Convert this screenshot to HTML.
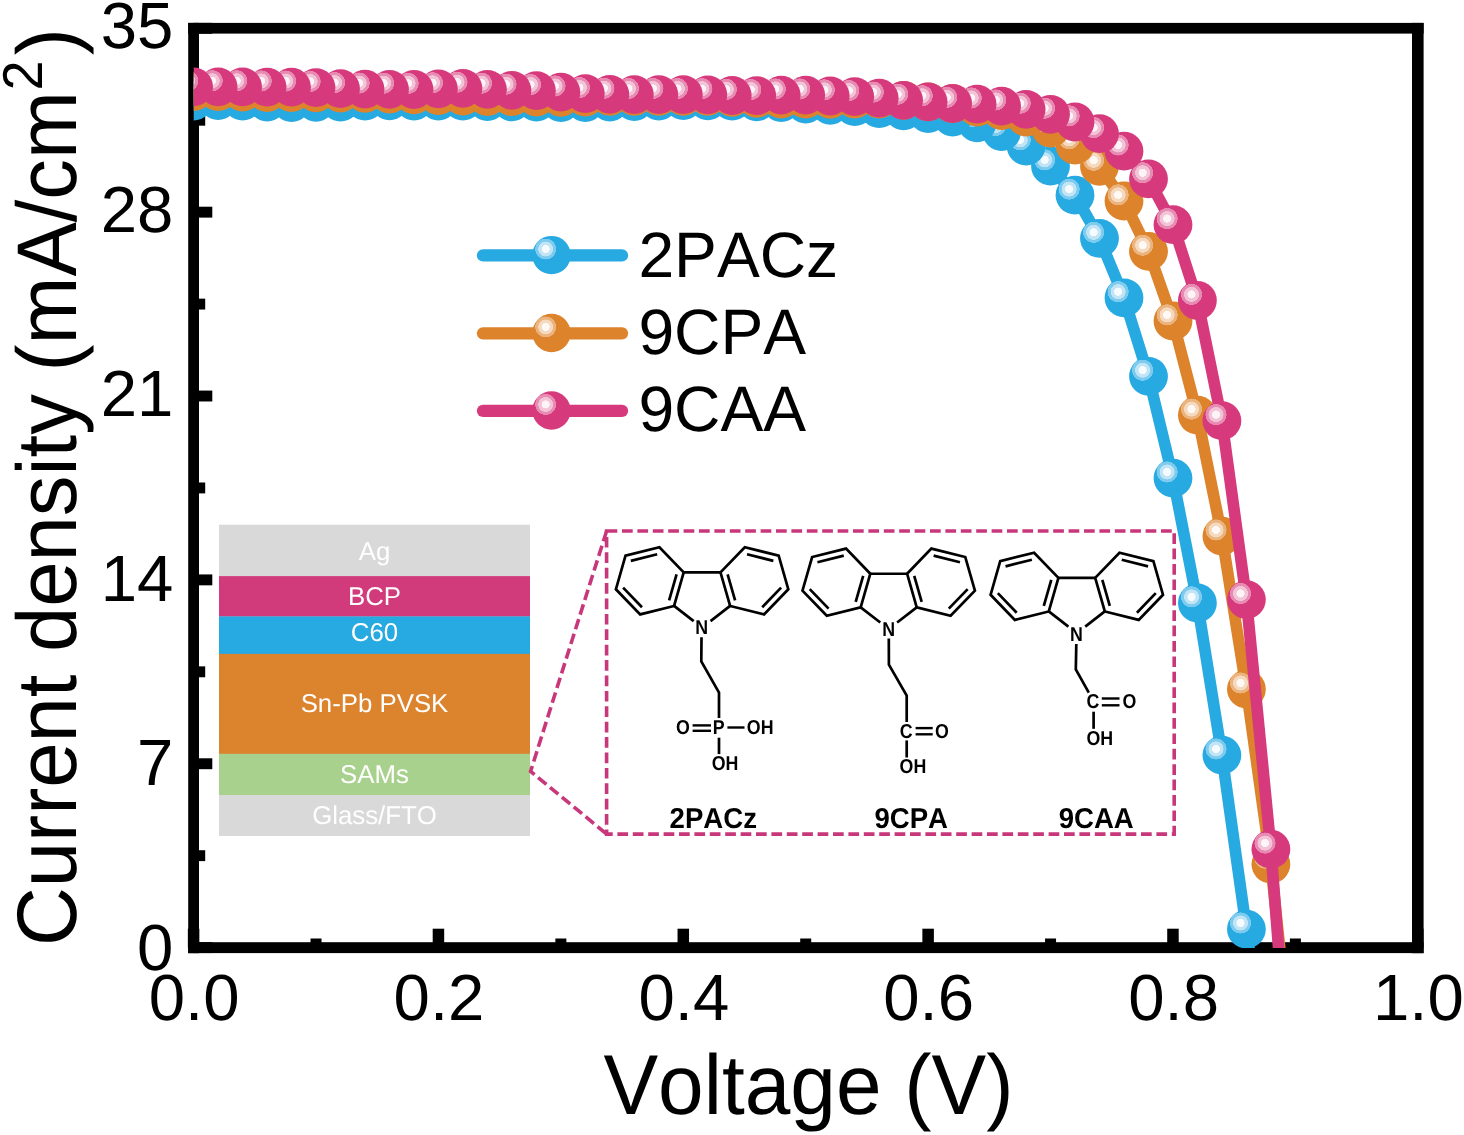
<!DOCTYPE html>
<html lang="en"><head><meta charset="utf-8"><title>J-V curves</title>
<style>html,body{margin:0;padding:0;background:#fff}body{width:1464px;height:1135px;overflow:hidden}svg{display:block}text{font-family:"Liberation Sans",sans-serif;font-kerning:none;text-rendering:geometricPrecision}</style></head><body>
<svg width="1464" height="1135" viewBox="0 0 1464 1135">
<defs>
<radialGradient id="gb" cx="0.348" cy="0.342" fx="0.348" fy="0.342" r="0.275">
<stop offset="0" stop-color="#F5FBFE"/><stop offset="0.36" stop-color="#F5FBFE"/><stop offset="0.40" stop-color="#C2E5F6"/><stop offset="0.68" stop-color="#C2E5F6"/><stop offset="0.72" stop-color="#7DCBEE"/><stop offset="0.97" stop-color="#7DCBEE"/><stop offset="1" stop-color="#27A9E1"/></radialGradient>
<radialGradient id="go" cx="0.348" cy="0.342" fx="0.348" fy="0.342" r="0.275">
<stop offset="0" stop-color="#FEF9F4"/><stop offset="0.36" stop-color="#FEF9F4"/><stop offset="0.40" stop-color="#F5DABF"/><stop offset="0.68" stop-color="#F5DABF"/><stop offset="0.72" stop-color="#EBB47E"/><stop offset="0.97" stop-color="#EBB47E"/><stop offset="1" stop-color="#DC832B"/></radialGradient>
<radialGradient id="gp" cx="0.348" cy="0.342" fx="0.348" fy="0.342" r="0.275">
<stop offset="0" stop-color="#FDF4F8"/><stop offset="0.36" stop-color="#FDF4F8"/><stop offset="0.40" stop-color="#F3C3D8"/><stop offset="0.68" stop-color="#F3C3D8"/><stop offset="0.72" stop-color="#E88BB2"/><stop offset="0.97" stop-color="#E88BB2"/><stop offset="1" stop-color="#D63A7C"/></radialGradient>
<clipPath id="clip"><rect x="193.70" y="28.30" width="1224.20" height="919.80"/></clipPath>
</defs>
<rect width="1464" height="1135" fill="#fff"/>
<g fill="#000">
<rect x="188.2" y="22.9" width="10.8" height="930.3"/>
<rect x="1412.0" y="22.9" width="11.6" height="930.3"/>
<rect x="188.2" y="22.9" width="1235.4" height="10.7"/>
<rect x="188.2" y="942.2" width="1235.4" height="10.9"/>
<rect x="187.85" y="928.7" width="11.5" height="19"/>
<rect x="310.52" y="938.5" width="11.0" height="9"/>
<rect x="432.69" y="928.7" width="11.5" height="19"/>
<rect x="555.36" y="938.5" width="11.0" height="9"/>
<rect x="677.53" y="928.7" width="11.5" height="19"/>
<rect x="800.20" y="938.5" width="11.0" height="9"/>
<rect x="922.37" y="928.7" width="11.5" height="19"/>
<rect x="1045.04" y="938.5" width="11.0" height="9"/>
<rect x="1167.21" y="928.7" width="11.5" height="19"/>
<rect x="1289.88" y="938.5" width="11.0" height="9"/>
<rect x="1412.05" y="928.7" width="11.5" height="19"/>
<rect x="193.6" y="942.15" width="18.7" height="10.9"/>
<rect x="193.6" y="850.22" width="11.6" height="10.9"/>
<rect x="193.6" y="758.29" width="18.7" height="10.9"/>
<rect x="193.6" y="666.36" width="11.6" height="10.9"/>
<rect x="193.6" y="574.43" width="18.7" height="10.9"/>
<rect x="193.6" y="482.50" width="11.6" height="10.9"/>
<rect x="193.6" y="390.57" width="18.7" height="10.9"/>
<rect x="193.6" y="298.64" width="11.6" height="10.9"/>
<rect x="193.6" y="206.71" width="18.7" height="10.9"/>
<rect x="193.6" y="114.78" width="11.6" height="10.9"/>
<rect x="193.6" y="22.85" width="18.7" height="10.9"/>
</g>
<g clip-path="url(#clip)">
<polyline points="193.6,101.0 218.1,100.5 242.6,101.2 267.1,102.0 291.5,102.6 316.0,102.4 340.5,102.2 365.0,101.2 389.5,100.8 414.0,101.0 438.4,101.1 462.9,101.2 487.4,101.5 511.9,101.9 536.4,102.2 560.9,102.6 585.3,102.6 609.8,102.0 634.3,101.5 658.8,101.0 683.3,100.5 707.8,100.8 732.2,101.2 756.7,101.9 781.2,102.6 805.7,104.0 830.2,105.3 854.7,106.7 879.2,108.7 903.6,110.8 928.1,113.5 952.6,117.1 977.1,122.8 1001.6,131.6 1026.1,146.0 1050.5,166.0 1075.0,195.2 1099.5,238.4 1124.0,297.8 1148.5,376.3 1173.0,478.1 1197.4,603.0 1221.9,755.1 1246.4,929.1 1270.9,1110.0" fill="none" stroke="#27A9E1" stroke-width="11.6" stroke-linejoin="round"/>
<circle cx="1246.4" cy="929.1" r="19.4" fill="url(#gb)"/>
<circle cx="1221.9" cy="755.1" r="19.4" fill="url(#gb)"/>
<circle cx="1197.4" cy="603.0" r="19.4" fill="url(#gb)"/>
<circle cx="1173.0" cy="478.1" r="19.4" fill="url(#gb)"/>
<circle cx="1148.5" cy="376.3" r="19.4" fill="url(#gb)"/>
<circle cx="1124.0" cy="297.8" r="19.4" fill="url(#gb)"/>
<circle cx="1099.5" cy="238.4" r="19.4" fill="url(#gb)"/>
<circle cx="1075.0" cy="195.2" r="19.4" fill="url(#gb)"/>
<circle cx="1050.5" cy="166.0" r="19.4" fill="url(#gb)"/>
<circle cx="1026.1" cy="146.0" r="19.4" fill="url(#gb)"/>
<circle cx="1001.6" cy="131.6" r="19.4" fill="url(#gb)"/>
<circle cx="977.1" cy="122.8" r="19.4" fill="url(#gb)"/>
<circle cx="952.6" cy="117.1" r="19.4" fill="url(#gb)"/>
<circle cx="928.1" cy="113.5" r="19.4" fill="url(#gb)"/>
<circle cx="903.6" cy="110.8" r="19.4" fill="url(#gb)"/>
<circle cx="879.2" cy="108.7" r="19.4" fill="url(#gb)"/>
<circle cx="854.7" cy="106.7" r="19.4" fill="url(#gb)"/>
<circle cx="830.2" cy="105.3" r="19.4" fill="url(#gb)"/>
<circle cx="805.7" cy="104.0" r="19.4" fill="url(#gb)"/>
<circle cx="781.2" cy="102.6" r="19.4" fill="url(#gb)"/>
<circle cx="756.7" cy="101.9" r="19.4" fill="url(#gb)"/>
<circle cx="732.2" cy="101.2" r="19.4" fill="url(#gb)"/>
<circle cx="707.8" cy="100.8" r="19.4" fill="url(#gb)"/>
<circle cx="683.3" cy="100.5" r="19.4" fill="url(#gb)"/>
<circle cx="658.8" cy="101.0" r="19.4" fill="url(#gb)"/>
<circle cx="634.3" cy="101.5" r="19.4" fill="url(#gb)"/>
<circle cx="609.8" cy="102.0" r="19.4" fill="url(#gb)"/>
<circle cx="585.3" cy="102.6" r="19.4" fill="url(#gb)"/>
<circle cx="560.9" cy="102.6" r="19.4" fill="url(#gb)"/>
<circle cx="536.4" cy="102.2" r="19.4" fill="url(#gb)"/>
<circle cx="511.9" cy="101.9" r="19.4" fill="url(#gb)"/>
<circle cx="487.4" cy="101.5" r="19.4" fill="url(#gb)"/>
<circle cx="462.9" cy="101.2" r="19.4" fill="url(#gb)"/>
<circle cx="438.4" cy="101.1" r="19.4" fill="url(#gb)"/>
<circle cx="414.0" cy="101.0" r="19.4" fill="url(#gb)"/>
<circle cx="389.5" cy="100.8" r="19.4" fill="url(#gb)"/>
<circle cx="365.0" cy="101.2" r="19.4" fill="url(#gb)"/>
<circle cx="340.5" cy="102.2" r="19.4" fill="url(#gb)"/>
<circle cx="316.0" cy="102.4" r="19.4" fill="url(#gb)"/>
<circle cx="291.5" cy="102.6" r="19.4" fill="url(#gb)"/>
<circle cx="267.1" cy="102.0" r="19.4" fill="url(#gb)"/>
<circle cx="242.6" cy="101.2" r="19.4" fill="url(#gb)"/>
<circle cx="218.1" cy="100.5" r="19.4" fill="url(#gb)"/>
<circle cx="193.6" cy="101.0" r="19.4" fill="url(#gb)"/>
<polyline points="193.6,91.5 218.1,91.7 242.6,92.2 267.1,92.6 291.5,92.7 316.0,92.8 340.5,93.1 365.0,93.4 389.5,94.0 414.0,94.8 438.4,95.5 462.9,96.2 487.4,96.5 511.9,96.7 536.4,97.0 560.9,97.4 585.3,97.0 609.8,96.4 634.3,96.4 658.8,96.4 683.3,96.4 707.8,96.4 732.2,97.3 756.7,98.3 781.2,99.2 805.7,99.2 830.2,99.4 854.7,99.0 879.2,99.0 903.6,100.3 928.1,101.9 952.6,103.7 977.1,107.0 1001.6,110.5 1026.1,117.0 1050.5,128.0 1075.0,145.0 1099.5,166.4 1124.0,201.0 1148.5,251.3 1173.0,321.0 1197.4,415.2 1221.9,536.1 1246.4,689.1 1270.9,864.2 1295.4,1095.0" fill="none" stroke="#DC832B" stroke-width="11.6" stroke-linejoin="round"/>
<circle cx="1270.9" cy="864.2" r="19.4" fill="url(#go)"/>
<circle cx="1246.4" cy="689.1" r="19.4" fill="url(#go)"/>
<circle cx="1221.9" cy="536.1" r="19.4" fill="url(#go)"/>
<circle cx="1197.4" cy="415.2" r="19.4" fill="url(#go)"/>
<circle cx="1173.0" cy="321.0" r="19.4" fill="url(#go)"/>
<circle cx="1148.5" cy="251.3" r="19.4" fill="url(#go)"/>
<circle cx="1124.0" cy="201.0" r="19.4" fill="url(#go)"/>
<circle cx="1099.5" cy="166.4" r="19.4" fill="url(#go)"/>
<circle cx="1075.0" cy="145.0" r="19.4" fill="url(#go)"/>
<circle cx="1050.5" cy="128.0" r="19.4" fill="url(#go)"/>
<circle cx="1026.1" cy="117.0" r="19.4" fill="url(#go)"/>
<circle cx="1001.6" cy="110.5" r="19.4" fill="url(#go)"/>
<circle cx="977.1" cy="107.0" r="19.4" fill="url(#go)"/>
<circle cx="952.6" cy="103.7" r="19.4" fill="url(#go)"/>
<circle cx="928.1" cy="101.9" r="19.4" fill="url(#go)"/>
<circle cx="903.6" cy="100.3" r="19.4" fill="url(#go)"/>
<circle cx="879.2" cy="99.0" r="19.4" fill="url(#go)"/>
<circle cx="854.7" cy="99.0" r="19.4" fill="url(#go)"/>
<circle cx="830.2" cy="99.4" r="19.4" fill="url(#go)"/>
<circle cx="805.7" cy="99.2" r="19.4" fill="url(#go)"/>
<circle cx="781.2" cy="99.2" r="19.4" fill="url(#go)"/>
<circle cx="756.7" cy="98.3" r="19.4" fill="url(#go)"/>
<circle cx="732.2" cy="97.3" r="19.4" fill="url(#go)"/>
<circle cx="707.8" cy="96.4" r="19.4" fill="url(#go)"/>
<circle cx="683.3" cy="96.4" r="19.4" fill="url(#go)"/>
<circle cx="658.8" cy="96.4" r="19.4" fill="url(#go)"/>
<circle cx="634.3" cy="96.4" r="19.4" fill="url(#go)"/>
<circle cx="609.8" cy="96.4" r="19.4" fill="url(#go)"/>
<circle cx="585.3" cy="97.0" r="19.4" fill="url(#go)"/>
<circle cx="560.9" cy="97.4" r="19.4" fill="url(#go)"/>
<circle cx="536.4" cy="97.0" r="19.4" fill="url(#go)"/>
<circle cx="511.9" cy="96.7" r="19.4" fill="url(#go)"/>
<circle cx="487.4" cy="96.5" r="19.4" fill="url(#go)"/>
<circle cx="462.9" cy="96.2" r="19.4" fill="url(#go)"/>
<circle cx="438.4" cy="95.5" r="19.4" fill="url(#go)"/>
<circle cx="414.0" cy="94.8" r="19.4" fill="url(#go)"/>
<circle cx="389.5" cy="94.0" r="19.4" fill="url(#go)"/>
<circle cx="365.0" cy="93.4" r="19.4" fill="url(#go)"/>
<circle cx="340.5" cy="93.1" r="19.4" fill="url(#go)"/>
<circle cx="316.0" cy="92.8" r="19.4" fill="url(#go)"/>
<circle cx="291.5" cy="92.7" r="19.4" fill="url(#go)"/>
<circle cx="267.1" cy="92.6" r="19.4" fill="url(#go)"/>
<circle cx="242.6" cy="92.2" r="19.4" fill="url(#go)"/>
<circle cx="218.1" cy="91.7" r="19.4" fill="url(#go)"/>
<circle cx="193.6" cy="91.5" r="19.4" fill="url(#go)"/>
<polyline points="193.6,86.9 218.1,86.9 242.6,86.9 267.1,87.1 291.5,87.2 316.0,87.6 340.5,88.7 365.0,89.2 389.5,89.3 414.0,89.5 438.4,88.9 462.9,88.3 487.4,89.3 511.9,90.3 536.4,90.7 560.9,92.1 585.3,93.7 609.8,94.4 634.3,94.6 658.8,94.6 683.3,94.7 707.8,94.8 732.2,95.5 756.7,95.7 781.2,95.1 805.7,95.1 830.2,96.0 854.7,96.7 879.2,98.2 903.6,100.3 928.1,101.9 952.6,103.5 977.1,104.1 1001.6,106.1 1026.1,109.3 1050.5,114.3 1075.0,122.0 1099.5,133.7 1124.0,151.1 1148.5,178.9 1173.0,224.7 1197.4,300.5 1221.9,420.7 1246.4,599.6 1270.9,849.2 1295.4,1166.0" fill="none" stroke="#D63A7C" stroke-width="11.6" stroke-linejoin="round"/>
<circle cx="1270.9" cy="849.2" r="19.4" fill="url(#gp)"/>
<circle cx="1246.4" cy="599.6" r="19.4" fill="url(#gp)"/>
<circle cx="1221.9" cy="420.7" r="19.4" fill="url(#gp)"/>
<circle cx="1197.4" cy="300.5" r="19.4" fill="url(#gp)"/>
<circle cx="1173.0" cy="224.7" r="19.4" fill="url(#gp)"/>
<circle cx="1148.5" cy="178.9" r="19.4" fill="url(#gp)"/>
<circle cx="1124.0" cy="151.1" r="19.4" fill="url(#gp)"/>
<circle cx="1099.5" cy="133.7" r="19.4" fill="url(#gp)"/>
<circle cx="1075.0" cy="122.0" r="19.4" fill="url(#gp)"/>
<circle cx="1050.5" cy="114.3" r="19.4" fill="url(#gp)"/>
<circle cx="1026.1" cy="109.3" r="19.4" fill="url(#gp)"/>
<circle cx="1001.6" cy="106.1" r="19.4" fill="url(#gp)"/>
<circle cx="977.1" cy="104.1" r="19.4" fill="url(#gp)"/>
<circle cx="952.6" cy="103.5" r="19.4" fill="url(#gp)"/>
<circle cx="928.1" cy="101.9" r="19.4" fill="url(#gp)"/>
<circle cx="903.6" cy="100.3" r="19.4" fill="url(#gp)"/>
<circle cx="879.2" cy="98.2" r="19.4" fill="url(#gp)"/>
<circle cx="854.7" cy="96.7" r="19.4" fill="url(#gp)"/>
<circle cx="830.2" cy="96.0" r="19.4" fill="url(#gp)"/>
<circle cx="805.7" cy="95.1" r="19.4" fill="url(#gp)"/>
<circle cx="781.2" cy="95.1" r="19.4" fill="url(#gp)"/>
<circle cx="756.7" cy="95.7" r="19.4" fill="url(#gp)"/>
<circle cx="732.2" cy="95.5" r="19.4" fill="url(#gp)"/>
<circle cx="707.8" cy="94.8" r="19.4" fill="url(#gp)"/>
<circle cx="683.3" cy="94.7" r="19.4" fill="url(#gp)"/>
<circle cx="658.8" cy="94.6" r="19.4" fill="url(#gp)"/>
<circle cx="634.3" cy="94.6" r="19.4" fill="url(#gp)"/>
<circle cx="609.8" cy="94.4" r="19.4" fill="url(#gp)"/>
<circle cx="585.3" cy="93.7" r="19.4" fill="url(#gp)"/>
<circle cx="560.9" cy="92.1" r="19.4" fill="url(#gp)"/>
<circle cx="536.4" cy="90.7" r="19.4" fill="url(#gp)"/>
<circle cx="511.9" cy="90.3" r="19.4" fill="url(#gp)"/>
<circle cx="487.4" cy="89.3" r="19.4" fill="url(#gp)"/>
<circle cx="462.9" cy="88.3" r="19.4" fill="url(#gp)"/>
<circle cx="438.4" cy="88.9" r="19.4" fill="url(#gp)"/>
<circle cx="414.0" cy="89.5" r="19.4" fill="url(#gp)"/>
<circle cx="389.5" cy="89.3" r="19.4" fill="url(#gp)"/>
<circle cx="365.0" cy="89.2" r="19.4" fill="url(#gp)"/>
<circle cx="340.5" cy="88.7" r="19.4" fill="url(#gp)"/>
<circle cx="316.0" cy="87.6" r="19.4" fill="url(#gp)"/>
<circle cx="291.5" cy="87.2" r="19.4" fill="url(#gp)"/>
<circle cx="267.1" cy="87.1" r="19.4" fill="url(#gp)"/>
<circle cx="242.6" cy="86.9" r="19.4" fill="url(#gp)"/>
<circle cx="218.1" cy="86.9" r="19.4" fill="url(#gp)"/>
<circle cx="193.6" cy="86.9" r="19.4" fill="url(#gp)"/>
</g>
<line x1="483" y1="255.4" x2="622" y2="255.4" stroke="#27A9E1" stroke-width="12.3" stroke-linecap="round"/>
<circle cx="551.5" cy="255.1" r="19.2" fill="url(#gb)"/>
<text x="638.4" y="276.9" font-size="64.2">2PACz</text>
<line x1="483" y1="333.3" x2="622" y2="333.3" stroke="#DC832B" stroke-width="12.3" stroke-linecap="round"/>
<circle cx="551.5" cy="333.0" r="19.2" fill="url(#go)"/>
<text x="638.4" y="354.3" font-size="64.2">9CPA</text>
<line x1="483" y1="410.8" x2="622" y2="410.8" stroke="#D63A7C" stroke-width="12.3" stroke-linecap="round"/>
<circle cx="551.5" cy="410.5" r="19.2" fill="url(#gp)"/>
<text x="638.4" y="431.3" font-size="64.2">9CAA</text>
<g font-size="65.3" fill="#000">
<text x="194.2" y="1020.4" text-anchor="middle">0.0</text>
<text x="439.0" y="1020.4" text-anchor="middle">0.2</text>
<text x="683.9" y="1020.4" text-anchor="middle">0.4</text>
<text x="928.7" y="1020.4" text-anchor="middle">0.6</text>
<text x="1173.6" y="1020.4" text-anchor="middle">0.8</text>
<text x="1418.4" y="1020.4" text-anchor="middle">1.0</text>
<text x="173.4" y="969.5" text-anchor="end">0</text>
<text x="173.4" y="785.2" text-anchor="end">7</text>
<text x="173.4" y="600.8" text-anchor="end">14</text>
<text x="173.4" y="415.9" text-anchor="end">21</text>
<text x="173.4" y="232.1" text-anchor="end">28</text>
<text x="173.4" y="47.8" text-anchor="end">35</text>
</g>
<text transform="translate(808.5,1114.2) scale(1,1.035)" font-size="82" text-anchor="middle">Voltage (V)</text>
<text transform="translate(76.2,946) rotate(-90) scale(1,1.04)" font-size="81.4">Current density (mA/cm<tspan font-size="54" dy="-33" dx="0.8">2</tspan><tspan dy="33" dx="5">)</tspan></text>
<rect x="219" y="524.7" width="311" height="51.7" fill="#D9D9D9"/>
<rect x="219" y="576.1" width="311" height="40.6" fill="#D13B7B"/>
<rect x="219" y="616.4" width="311" height="37.8" fill="#27A9E1"/>
<rect x="219" y="653.9" width="311" height="100.2" fill="#DB832D"/>
<rect x="219" y="753.8" width="311" height="41.5" fill="#A9D18E"/>
<rect x="219" y="795.0" width="311" height="41.0" fill="#D9D9D9"/>
<text x="374.5" y="559.6" font-size="25.8" fill="#fff" text-anchor="middle">Ag</text>
<text x="374.5" y="604.7" font-size="25.8" fill="#fff" text-anchor="middle">BCP</text>
<text x="374.5" y="641.2" font-size="25.8" fill="#fff" text-anchor="middle">C60</text>
<text x="374.5" y="712.0" font-size="25.8" fill="#fff" text-anchor="middle">Sn-Pb PVSK</text>
<text x="374.5" y="783.0" font-size="25.8" fill="#fff" text-anchor="middle">SAMs</text>
<text x="374.5" y="824.2" font-size="25.8" fill="#fff" text-anchor="middle">Glass/FTO</text>
<g fill="none" stroke="#C8377A" stroke-width="3.6" stroke-dasharray="10.7 4.7">
<rect x="606.6" y="531" width="567.6" height="303.1"/>
<path d="M606.6 531 L530.6 771.3 L606.6 834"/>
</g>
<g fill="none" stroke="#000" stroke-width="2.7" stroke-linejoin="miter" stroke-linecap="butt">
<polygon points="683.71,572.34 659.43,547.20 625.52,555.66 615.89,589.26 640.17,614.40 674.08,605.94"/>
<polygon points="720.49,572.34 744.77,547.20 778.68,555.66 788.31,589.26 764.03,614.40 730.12,605.94"/>
<line x1="683.71" y1="572.34" x2="720.49" y2="572.34"/>
<line x1="657.17" y1="554.26" x2="630.83" y2="560.83"/>
<line x1="623.13" y1="587.68" x2="641.99" y2="607.21"/>
<line x1="669.10" y1="600.46" x2="676.58" y2="574.36"/>
<line x1="747.03" y1="554.26" x2="773.37" y2="560.83"/>
<line x1="781.07" y1="587.68" x2="762.21" y2="607.21"/>
<line x1="735.10" y1="600.46" x2="727.62" y2="574.36"/>
<line x1="674.08" y1="605.94" x2="693.69" y2="621.10"/>
<line x1="730.12" y1="605.94" x2="710.51" y2="621.10"/>
<polyline points="701.5,637.2 701.3,661.5 719,692.6 719,718"/>
<line stroke-width="2.4" x1="692.6" y1="725.4" x2="711" y2="725.4"/><line stroke-width="2.4" x1="692.6" y1="730.8" x2="711" y2="730.8"/>
<line stroke-width="2.4" x1="727.4" y1="727.5" x2="744.5" y2="727.5"/>
<line x1="719" y1="737.7" x2="719" y2="754.1"/>
<polygon points="870.31,573.74 846.03,548.60 812.12,557.06 802.49,590.66 826.77,615.80 860.68,607.34"/>
<polygon points="907.09,573.74 931.37,548.60 965.28,557.06 974.91,590.66 950.63,615.80 916.72,607.34"/>
<line x1="870.31" y1="573.74" x2="907.09" y2="573.74"/>
<line x1="843.77" y1="555.66" x2="817.43" y2="562.23"/>
<line x1="809.73" y1="589.08" x2="828.59" y2="608.61"/>
<line x1="855.70" y1="601.86" x2="863.18" y2="575.76"/>
<line x1="933.63" y1="555.66" x2="959.97" y2="562.23"/>
<line x1="967.67" y1="589.08" x2="948.81" y2="608.61"/>
<line x1="921.70" y1="601.86" x2="914.22" y2="575.76"/>
<line x1="860.68" y1="607.34" x2="880.29" y2="622.50"/>
<line x1="916.72" y1="607.34" x2="897.11" y2="622.50"/>
<polyline points="888.8,638.6 888.9,664.6 906.7,695.7 906.7,722"/>
<line stroke-width="2.4" x1="915.6" y1="728.1" x2="932.7" y2="728.1"/><line stroke-width="2.4" x1="915.6" y1="734.3" x2="932.7" y2="734.3"/>
<line x1="906.7" y1="740.4" x2="906.7" y2="757.5"/>
<polygon points="1058.41,577.84 1034.13,552.70 1000.22,561.16 990.59,594.76 1014.87,619.90 1048.78,611.44"/>
<polygon points="1095.19,577.84 1119.47,552.70 1153.38,561.16 1163.01,594.76 1138.73,619.90 1104.82,611.44"/>
<line x1="1058.41" y1="577.84" x2="1095.19" y2="577.84"/>
<line x1="1031.87" y1="559.76" x2="1005.53" y2="566.33"/>
<line x1="997.83" y1="593.18" x2="1016.69" y2="612.71"/>
<line x1="1043.80" y1="605.96" x2="1051.28" y2="579.86"/>
<line x1="1121.73" y1="559.76" x2="1148.07" y2="566.33"/>
<line x1="1155.77" y1="593.18" x2="1136.91" y2="612.71"/>
<line x1="1109.80" y1="605.96" x2="1102.32" y2="579.86"/>
<line x1="1048.78" y1="611.44" x2="1068.39" y2="626.60"/>
<line x1="1104.82" y1="611.44" x2="1085.21" y2="626.60"/>
<polyline points="1076.3,644 1075.8,669.4 1088.8,692.6"/>
<line stroke-width="2.4" x1="1101.8" y1="698.5" x2="1119.5" y2="698.5"/><line stroke-width="2.4" x1="1101.8" y1="705.3" x2="1119.5" y2="705.3"/>
<line x1="1093.6" y1="711.7" x2="1093.6" y2="728.8"/>
</g>
<g font-size="17.8" font-weight="bold" fill="#000" text-anchor="middle">
<text transform="translate(701.7,634.3) scale(1,1.13)">N</text>
<text transform="translate(888.7,635.6) scale(1,1.13)">N</text>
<text transform="translate(1076.5,641.0) scale(1,1.13)">N</text>
<text transform="translate(683.0,734.4) scale(1,1.13)">O</text>
<text transform="translate(718.6,734.4) scale(1,1.13)">P</text>
<text transform="translate(760.2,734.4) scale(1,1.13)">OH</text>
<text transform="translate(725.0,769.5) scale(1,1.13)">OH</text>
<text transform="translate(906.2,737.7) scale(1,1.13)">C</text>
<text transform="translate(942.0,737.7) scale(1,1.13)">O</text>
<text transform="translate(912.9,773.2) scale(1,1.13)">OH</text>
<text transform="translate(1092.9,708.3) scale(1,1.13)">C</text>
<text transform="translate(1129.3,708.3) scale(1,1.13)">O</text>
<text transform="translate(1099.8,744.9) scale(1,1.13)">OH</text>
</g>
<g font-size="27.6" font-weight="bold" fill="#000" text-anchor="middle">
<text transform="translate(713.3,828.3) scale(1,1.045)">2PACz</text>
<text transform="translate(911.2,828.3) scale(1,1.045)">9CPA</text>
<text transform="translate(1096.2,828.3) scale(1,1.045)">9CAA</text>
</g>
</svg></body></html>
